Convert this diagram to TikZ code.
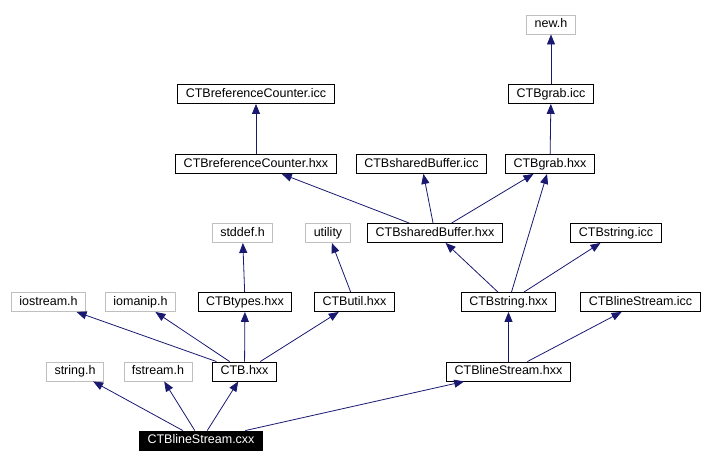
\documentclass[tikz,border=0pt]{standalone}
\usepackage{fontspec}
\setmainfont{Liberation Sans}
\usetikzlibrary{arrows.meta}
\definecolor{edgeblue}{RGB}{25,25,112}
\definecolor{extgray}{RGB}{191,191,191}

\begin{document}
\begin{tikzpicture}[x=1pt,y=-1pt,
  file/.style={draw=black,line width=0.9pt,inner xsep=8pt,inner ysep=0pt,
    minimum height=19pt,text height=9pt,text depth=2.5pt,
    font=\fontsize{12.5}{14}\selectfont},
  extfile/.style={file,draw=extgray},
  rootfile/.style={file,fill=black,text=white},
  dep/.style={edgeblue,line width=0.8pt,-{Triangle[length=10pt,width=8pt]}}]
\useasboundingbox (0,0) rectangle (716,465);
% headers and inline files
\node[extfile] (newh) at (551,24.5) {new.h};
\node[file] (grabicc) at (551,94) {CTBgrab.icc};
\node[file] (refcounticc) at (256,94) {CTBreferenceCounter.icc};
\node[file] (refcounthxx) at (256,164) {CTBreferenceCounter.hxx};
\node[file] (sharedbuficc) at (421.5,164) {CTBsharedBuffer.icc};
\node[file] (grabhxx) at (550,164) {CTBgrab.hxx};
\node[extfile] (stddefh) at (242.5,233) {stddef.h};
\node[extfile] (utility) at (328,233) {utility};
\node[file] (sharedbufhxx) at (435,233) {CTBsharedBuffer.hxx};
\node[file] (stringicc) at (616,233) {CTBstring.icc};
\node[extfile] (iostreamh) at (48.5,302) {iostream.h};
\node[extfile] (iomaniph) at (140.5,302) {iomanip.h};
\node[file] (typeshxx) at (245,302) {CTBtypes.hxx};
\node[file] (utilhxx) at (354.5,302) {CTButil.hxx};
\node[file] (stringhxx) at (508.5,302) {CTBstring.hxx};
\node[file] (linestreamicc) at (640.5,302) {CTBlineStream.icc};
\node[extfile] (stringh) at (75,371.5) {string.h};
\node[extfile] (fstreamh) at (158,371.5) {fstream.h};
\node[file] (ctbhxx) at (244.5,371.5) {CTB.hxx};
\node[file] (linestreamhxx) at (508.5,371.5) {CTBlineStream.hxx};
\node[rootfile] (linestreamcxx) at (201,440.5) {CTBlineStream.cxx};
% include edges
\draw[dep] (linestreamcxx) -- (stringh);
\draw[dep] (linestreamcxx) -- (fstreamh);
\draw[dep] (linestreamcxx) -- (ctbhxx);
\draw[dep] (linestreamcxx) -- (linestreamhxx);
\draw[dep] (ctbhxx) -- (iostreamh);
\draw[dep] (ctbhxx) -- (iomaniph);
\draw[dep] (ctbhxx) -- (typeshxx);
\draw[dep] (ctbhxx) -- (utilhxx);
\draw[dep] (typeshxx) -- (stddefh);
\draw[dep] (utilhxx) -- (utility);
\draw[dep] (linestreamhxx) -- (stringhxx);
\draw[dep] (linestreamhxx) -- (linestreamicc);
\draw[dep] (stringhxx) -- (sharedbufhxx);
\draw[dep] (stringhxx) -- (grabhxx);
\draw[dep] (stringhxx) -- (stringicc);
\draw[dep] (sharedbufhxx) -- (refcounthxx);
\draw[dep] (sharedbufhxx) -- (sharedbuficc);
\draw[dep] (sharedbufhxx) -- (grabhxx);
\draw[dep] (refcounthxx) -- (refcounticc);
\draw[dep] (grabhxx) -- (grabicc);
\draw[dep] (grabicc) -- (newh);
\end{tikzpicture}
\end{document}
